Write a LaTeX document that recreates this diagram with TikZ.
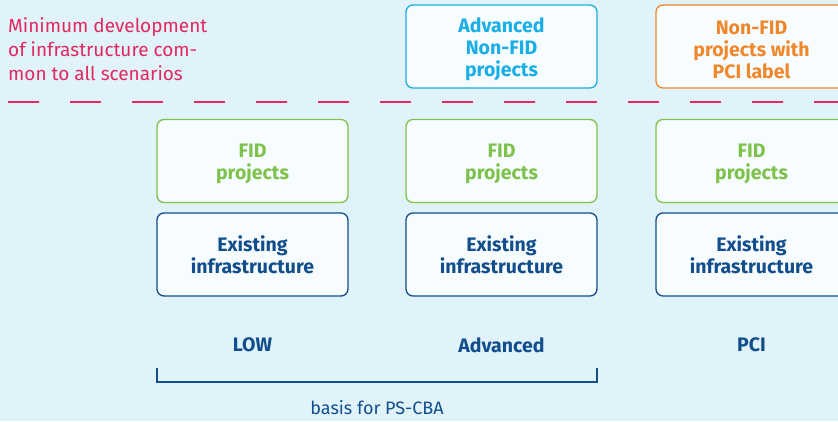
\documentclass[tikz,border=0pt]{standalone}
\usepackage{fontspec}
\setmainfont{Fira Sans}
\definecolor{bg}{HTML}{E1F3FA}
\definecolor{boxfill}{HTML}{F7FCFE}
\definecolor{redc}{HTML}{E4275E}
\definecolor{cyanc}{HTML}{18AEE6}
\definecolor{orangec}{HTML}{F0872A}
\definecolor{greenc}{HTML}{7DC24B}
\definecolor{navyc}{HTML}{124E8C}
\begin{document}
\begin{tikzpicture}[x=1pt,y=-1pt,
  box/.style={draw, line width=1.3pt, fill=boxfill, rounded corners=7pt, minimum width=191pt, minimum height=83pt, inner sep=0pt},
  boxtext/.style={align=center, font=\bfseries\fontsize{19.5}{22}\selectfont, inner sep=0pt, yshift=-3pt},
  lbl/.style={font=\bfseries\fontsize{19.5}{22}\selectfont, text=navyc}]
\fill[bg] (0,0) rectangle (838,421);
\useasboundingbox (0,0) rectangle (838,421);
\begin{scope}
\clip (0,0) rectangle (838,421);
\node[anchor=north west, align=left, text=redc, font=\fontsize{19}{24}\selectfont, inner sep=0pt] (min) at (8,17) {Minimum development\\of infrastructure com-\\mon to all scenarios};
\node[box, draw=cyanc] (adv) at (501.5,46.5) {};
\node[boxtext, text=cyanc] (advt) at (adv.center) {Advanced\\Non-FID\\projects};
\node[box, draw=orangec] (pci) at (751.5,46.5) {};
\node[boxtext, text=orangec] (pcit) at (pci.center) {Non-FID\\projects with\\PCI label};
\coordinate (dl) at (8,102);
\coordinate (dr) at (845,102);
\draw[redc, line width=2.3pt, dash pattern=on 31pt off 31pt] (dl) -- (dr);
\foreach \n/\x in {1/252.5,2/501.5,3/751.5}{
  \node[box, draw=greenc] (fid\n) at (\x,161) {};
  \node[boxtext, text=greenc] (fid\n t) at (fid\n.center) {FID\\projects};
  \node[box, draw=navyc] (ex\n) at (\x,254.5) {};
  \node[boxtext, text=navyc, yshift=3pt] (ex\n t) at (ex\n.center) {Existing\\infrastructure};
}
\node[lbl] (low) at (252.5,345) {LOW};
\node[lbl] (advl) at (501.5,345) {Advanced};
\node[lbl] (pcil) at (751.5,345) {PCI};
\coordinate (b1) at (157,368);
\coordinate (b2) at (157,382);
\coordinate (b3) at (597,382);
\coordinate (b4) at (597,368);
\draw[navyc, line width=1.2pt] (b1) -- (b2) -- (b3) -- (b4);
\node[text=navyc, font=\fontsize{18}{22}\selectfont] (basis) at (377,408) {basis for PS-CBA};
\end{scope}
\end{tikzpicture}
\end{document}
